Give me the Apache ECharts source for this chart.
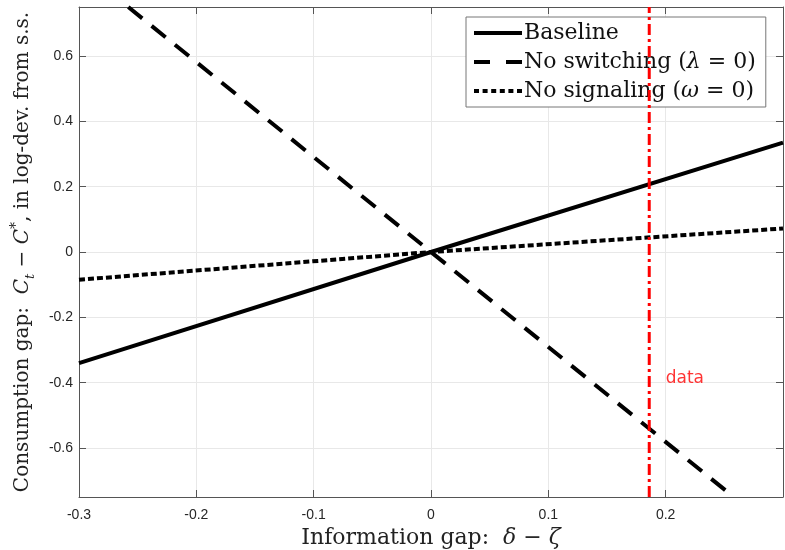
<!DOCTYPE html>
<html>
<head>
<meta charset="UTF-8">
<title>Consumption gap</title>
<script src="https://cdn.jsdelivr.net/npm/echarts@6/dist/echarts.min.js"></script>
<style>
  html, body { margin: 0; padding: 0; background: #fff; }
  #main { width: 785px; height: 550px; }
</style>
</head>
<body>
<div id="main"></div>
<script>
// data
var xLine = [-0.3, 0, 0.3];
var baseline = [-0.34, 0, 0.335];
var noSignaling = [-0.085, 0, 0.072];
var xNoSwitch = [-0.258, 0, 0.258];
var noSwitching = [0.75, 0, -0.75];
var dataX = 0.186;
var dataYRange = [-0.75, 0.75];
var dataLabelPos = [0.2, -0.386];

function pairs(xs, ys) {
  var out = [];
  for (var i = 0; i < xs.length; i++) out.push([xs[i], ys[i]]);
  return out;
}

var serif = 'DejaVu Serif';
var sans = 'Liberation Sans';

function tickFmt(step) {
  return function (v) {
    var k = Math.round(v / step);
    if (Math.abs(k * step - v) > 1e-6) return '';
    if (v > 0.25 && step === 0.1) return '';
    if (k === 0) return '0';
    return (k * step).toFixed(1);
  };
}

// legend icons (solid / dashed / dotted bars, 48 x 4)
var iconSolid = 'path://M0,0h48v4h-48z';
var iconDashed = 'path://M0,0h16v4h-16zM32,0h16v4h-16z';
var iconDotted = 'path://M0,0h5v4h-5zM8.6,0h5v4h-5zM17.2,0h5v4h-5zM25.8,0h5v4h-5zM34.4,0h5v4h-5zM43,0h5v4h-5z';

var myChart = echarts.init(document.getElementById('main'));

var axisLine = { show: true, onZero: false, lineStyle: { color: '#555', width: 1 } };
var insideTick = { show: true, inside: true, length: 7, lineStyle: { color: '#555' } };

var option = {
  animation: false,
  backgroundColor: '#fff',
  grid: { left: 79, right: 2, top: 7, bottom: 53, containLabel: false, outerBoundsMode: 'none' },
  legend: {
    orient: 'vertical',
    left: 466,
    top: 17,
    padding: [4, 10, 4, 8],
    itemGap: 5,
    itemWidth: 48,
    itemHeight: 4,
    backgroundColor: '#fff',
    borderColor: '#777',
    borderWidth: 1,
    borderRadius: 0,
    data: [
      { name: 'Baseline', icon: iconSolid },
      { name: 'No switching', icon: iconDashed },
      { name: 'No signaling', icon: iconDotted }
    ],
    formatter: function (name) {
      if (name === 'No switching') return 'No switching ({i|λ} = 0)';
      if (name === 'No signaling') return 'No signaling ({i|ω} = 0)';
      return name;
    },
    textStyle: {
      fontFamily: serif, fontSize: 22, color: '#111', padding: [0, 0, 0, -3], lineHeight: 24,
      rich: { i: { fontFamily: serif, fontStyle: 'italic', fontSize: 22, color: '#111', lineHeight: 24 } }
    }
  },
  xAxis: [{
    type: 'value',
    min: -0.3, max: 0.3, interval: 0.1,
    name: '{n|Information gap:  }{i|δ}{n| − }{i|ζ}',
    nameLocation: 'middle',
    nameGap: 17,
    nameTextStyle: {
      rich: {
        n: { fontFamily: serif, fontSize: 22, color: '#222' },
        i: { fontFamily: serif, fontStyle: 'italic', fontSize: 22, color: '#222' }
      }
    },
    axisLine: axisLine,
    axisTick: insideTick,
    axisLabel: { formatter: tickFmt(0.1), fontFamily: sans, fontSize: 14, color: '#262626', margin: 11 },
    splitLine: { show: true, lineStyle: { color: '#e8e8e8', width: 1 } }
  }, {
    type: 'value', position: 'top',
    min: -0.3, max: 0.3, interval: 0.1,
    axisLine: axisLine, axisTick: insideTick,
    axisLabel: { show: false }, splitLine: { show: false }
  }],
  yAxis: [{
    type: 'value',
    min: -0.75, max: 0.75,
    splitNumber: 7,
    name: '{n|Consumption gap:  }{i|C}{s|t}{n| − }{i|C}{p|*}{n|, in log-dev. from s.s.}',
    nameLocation: 'middle',
    nameGap: 42,
    nameTextStyle: {
      rich: {
        n: { fontFamily: serif, fontSize: 20, color: '#222' },
        i: { fontFamily: serif, fontStyle: 'italic', fontSize: 20, color: '#222' },
        s: { fontFamily: serif, fontStyle: 'italic', fontSize: 13, color: '#222', verticalAlign: 'bottom', lineHeight: 28 },
        p: { fontFamily: serif, fontSize: 14, color: '#222', verticalAlign: 'top', lineHeight: 28 }
      }
    },
    axisLine: axisLine,
    axisTick: insideTick,
    axisLabel: { formatter: tickFmt(0.2), fontFamily: sans, fontSize: 14, color: '#262626', margin: 6 },
    splitLine: { show: true, lineStyle: { color: '#e8e8e8', width: 1 } }
  }, {
    type: 'value', position: 'right',
    min: -0.75, max: 0.75, splitNumber: 7,
    axisLine: axisLine, axisTick: insideTick,
    axisLabel: { show: false }, splitLine: { show: false }
  }],
  series: [{
    name: 'Baseline',
    type: 'line',
    data: pairs(xLine, baseline),
    symbol: 'none',
    lineStyle: { color: '#000', width: 4, type: 'solid' },
    itemStyle: { color: '#000' },
    z: 3
  }, {
    name: 'No switching',
    type: 'line',
    data: pairs(xNoSwitch, noSwitching),
    symbol: 'none',
    lineStyle: { color: '#000', width: 4, type: [18, 12] },
    itemStyle: { color: '#000' },
    z: 3
  }, {
    name: 'No signaling',
    type: 'line',
    data: pairs(xLine, noSignaling),
    symbol: 'none',
    lineStyle: { color: '#000', width: 4, type: [6, 3] },
    itemStyle: { color: '#000' },
    z: 3
  }, {
    name: 'data line',
    type: 'line',
    data: pairs([dataX, dataX], dataYRange),
    symbol: 'none',
    silent: true,
    lineStyle: { color: '#ff0000', width: 3, type: [11, 4, 3, 4] },
    itemStyle: { color: '#ff0000' },
    z: 4
  }, {
    name: 'data',
    type: 'scatter',
    data: [dataLabelPos],
    symbolSize: 0,
    silent: true,
    label: {
      show: true, position: 'right', distance: 0, formatter: 'data',
      fontFamily: 'DejaVu Sans', fontSize: 17, color: '#ff0000'
    },
    z: 4
  }]
};

myChart.setOption(option, true);
</script>
</body>
</html>
